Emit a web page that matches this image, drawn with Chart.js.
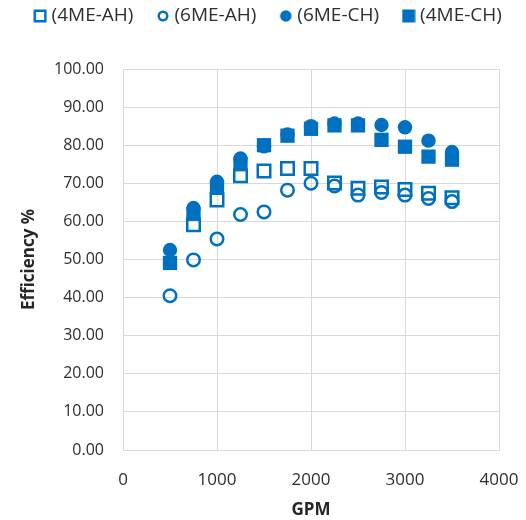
<!DOCTYPE html>
<html>
<head>
<meta charset="utf-8">
<script src="https://cdn.jsdelivr.net/npm/chart.js@4.4.1/dist/chart.umd.min.js"></script>
<style>
  html, body { margin: 0; padding: 0; background: #ffffff; }
  #wrap { width: 526px; height: 520px; }
</style>
</head>
<body>
<div id="wrap"><canvas id="chart" width="526" height="520"></canvas></div>
<script>
// Flow rate (GPM) at each test point
const gpm = [500, 750, 1000, 1250, 1500, 1750, 2000, 2250, 2500, 2750, 3000, 3250, 3500];

// Efficiency (%) for each configuration
const eff4meAH = [null, 59.1, 65.6, 72.0, 73.2, 73.9, 73.9, 70.1, 68.7, 69.0, 68.4, 67.4, 66.2];
const eff6meAH = [40.5, 49.9, 55.4, 61.8, 62.5, 68.2, 70.0, 69.3, 66.9, 67.6, 66.9, 66.0, 65.2];
const eff6meCH = [52.5, 63.5, 70.4, 76.5, 79.7, 82.8, 85.0, 85.7, 85.7, 85.3, 84.7, 81.2, 78.2];
const eff4meCH = [49.1, 62.0, 69.0, 75.0, 80.0, 82.5, 84.3, 85.2, 85.2, 81.4, 79.6, 77.0, 76.2];

const seriesNames = ['(4ME-AH)', '(6ME-AH)', '(6ME-CH)', '(4ME-CH)'];

// Axis tick values
const xTicks = [0, 1000, 2000, 3000, 4000];
const yTicks = [0, 10, 20, 30, 40, 50, 60, 70, 80, 90, 100];

const BLUE = '#0070C0';
const GRID = '#d9d9d9';
const TEXT = '#2e2e2e';
const FONT = "'Open Sans', 'Liberation Sans', sans-serif";

function toPoints(values) {
  return gpm.map((x, i) => ({ x: x, y: values[i] })).filter(p => p.y !== null);
}

// Small marker images for the legend
function legendIcon(kind) {
  const c = document.createElement('canvas');
  c.width = 14; c.height = 14;
  const g = c.getContext('2d');
  g.strokeStyle = BLUE; g.fillStyle = BLUE; g.lineWidth = 2.5;
  if (kind === 'openSquare') {
    g.strokeRect(1.75, 1.75, 10.5, 10.5);
  } else if (kind === 'openCircle') {
    g.beginPath(); g.arc(7, 7, 4.25, 0, Math.PI * 2); g.stroke();
  } else if (kind === 'dot') {
    g.beginPath(); g.arc(7, 7, 5.75, 0, Math.PI * 2); g.fill();
  } else {
    g.fillRect(0.5, 0.5, 13, 13);
  }
  return c;
}
const legendIcons = [legendIcon('openSquare'), legendIcon('openCircle'), legendIcon('dot'), legendIcon('square')];

// Fixes the legend band height and nudges its row toward the top edge
const legendBand = {
  id: 'legendBand',
  beforeLayout(chart) {
    const lg = chart.legend;
    if (lg && !lg._bandFit) {
      const fit = lg.fit;
      lg.fit = function () { fit.call(this); this.height = 69; };
      lg._bandFit = true;
    }
  },
  afterLayout(chart) {
    const lg = chart.legend;
    if (lg) {
      lg.top -= 21; lg.bottom -= 21;
      lg.left += 7; lg.right += 7;
    }
  }
};

const datasets = [
  {
    label: seriesNames[0], data: toPoints(eff4meAH),
    pointStyle: 'rect', pointRadius: 8.84, pointHoverRadius: 8.84,
    pointBorderWidth: 2.5, borderColor: BLUE, backgroundColor: 'rgba(0,0,0,0)'
  },
  {
    label: seriesNames[1], data: toPoints(eff6meAH),
    pointStyle: 'circle', pointRadius: 6.25, pointHoverRadius: 6.25,
    pointBorderWidth: 2.5, borderColor: BLUE, backgroundColor: 'rgba(0,0,0,0)'
  },
  {
    label: seriesNames[2], data: toPoints(eff6meCH),
    pointStyle: 'circle', pointRadius: 7.2, pointHoverRadius: 7.2,
    pointBorderWidth: 0, borderColor: BLUE, backgroundColor: BLUE
  },
  {
    label: seriesNames[3], data: toPoints(eff4meCH),
    pointStyle: 'rect', pointRadius: 10.1, pointHoverRadius: 10.1,
    pointBorderWidth: 0, borderColor: BLUE, backgroundColor: BLUE
  }
];

new Chart(document.getElementById('chart'), {
  type: 'scatter',
  data: { datasets: datasets },
  plugins: [legendBand],
  options: {
    responsive: false,
    animation: false,
    layout: { padding: 0 },
    plugins: {
      tooltip: { enabled: false },
      legend: {
        position: 'top',
        labels: {
          usePointStyle: true,
          pointStyleWidth: 4,
          padding: 27.5,
          color: TEXT,
          font: { family: FONT, size: 19 },
          generateLabels: chart => chart.data.datasets.map((ds, i) => ({
            text: ds.label,
            pointStyle: legendIcons[i],
            fillStyle: BLUE,
            strokeStyle: BLUE,
            lineWidth: 0,
            hidden: false,
            datasetIndex: i,
            fontColor: TEXT
          }))
        }
      }
    },
    scales: {
      x: {
        type: 'linear',
        min: xTicks[0],
        max: xTicks[xTicks.length - 1],
        afterBuildTicks: s => { s.ticks = xTicks.map(v => ({ value: v })); },
        afterFit: s => { s.height = 70; s.paddingLeft = 0; s.paddingRight = 0; },
        grid: { color: GRID, lineWidth: 1, drawTicks: false },
        border: { color: GRID, width: 1 },
        ticks: {
          padding: 20, color: TEXT, font: { family: FONT, size: 17 },
          callback: v => String(v)
        },
        title: {
          display: true, text: 'GPM', color: '#262626',
          font: { family: FONT, size: 17, weight: 'bold' },
          padding: { top: 0, bottom: 0 }
        }
      },
      y: {
        type: 'linear',
        min: yTicks[0],
        max: yTicks[yTicks.length - 1],
        afterBuildTicks: s => { s.ticks = yTicks.map(v => ({ value: v })); },
        afterFit: s => { s.width = 123; s.paddingTop = 0; s.paddingBottom = 0; },
        grid: { color: GRID, lineWidth: 1, drawTicks: false },
        border: { color: GRID, width: 1 },
        ticks: {
          padding: 19, color: TEXT, font: { family: FONT, size: 16 },
          callback: v => Number(v).toFixed(2)
        },
        title: {
          display: true, text: 'Efficiency %', color: '#262626',
          font: { family: FONT, size: 17, weight: 'bold' },
          padding: { top: 19, bottom: 0 }
        }
      },
      // empty right-hand band that keeps the plot clear of the last x label
      yRight: {
        type: 'linear',
        position: 'right',
        display: true,
        afterFit: s => { s.width = 27; },
        grid: { display: false, drawTicks: false },
        border: { display: false },
        ticks: { display: false },
        title: { display: false }
      }
    }
  }
});
</script>
</body>
</html>
